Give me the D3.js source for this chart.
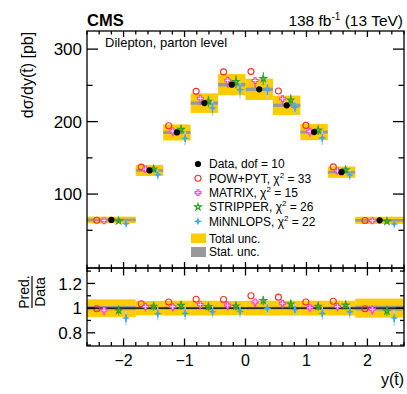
<!DOCTYPE html>
<html>
<head>
<meta charset="utf-8">
<script src="https://cdn.jsdelivr.net/npm/d3@7"></script>
<style>
  body { margin: 0; background: #fff; }
  text { font-family: "Liberation Sans", Arial, Helvetica, sans-serif; fill: #000; }
</style>
</head>
<body>
<svg id="chart" width="407" height="394"></svg>
<script>
// bins in y(tbar) and measured cross section [pb]
const binEdges = [-2.6, -1.8, -1.35, -0.9, -0.45, 0, 0.45, 0.9, 1.35, 1.8, 2.6];
const dataVals = [64.3, 132.6, 185, 225.5, 251, 244.5, 222.5, 185.5, 130.2, 63.8];
const totalRel = [0.071, 0.058, 0.06, 0.06, 0.058, 0.06, 0.06, 0.06, 0.06, 0.077];
const statRel  = [0.017, 0.01, 0.011, 0.01, 0.01, 0.01, 0.01, 0.011, 0.012, 0.02];

// prediction / data
const powRatio      = [0.995, 1.035, 1.05, 1.072, 1.07, 1.1, 1.089, 1.05, 1.056, 0.995];
const matrixRatio   = [0.984, 1.014, 1.011, 1.03, 1.024, 1.05, 1.04, 1.006, 1.014, 0.99];
const stripperRatio = [0.981, 1.014, 1.022, 1.011, 1.016, 1.06, 1.032, 1.014, 1.024, 0.976];
const minnlopsRatio = [0.92, 0.955, 0.957, 0.97, 0.973, 0.998, 0.987, 0.957, 0.97, 0.92];

// relative theory uncertainties (up, down)
const matrixErrUp   = [0.005, 0.005, 0.005, 0.005, 0.005, 0.005, 0.005, 0.005, 0.005, 0.005];
const matrixErrDn   = [0.045, 0.04, 0.04, 0.04, 0.04, 0.04, 0.04, 0.04, 0.04, 0.045];
const stripperErr   = [0.04, 0.035, 0.035, 0.035, 0.035, 0.035, 0.035, 0.035, 0.035, 0.04];
const minnlopsErr   = [0.065, 0.055, 0.055, 0.05, 0.05, 0.05, 0.05, 0.055, 0.055, 0.07];
const minnlopsInner = [0.035, 0.03, 0.03, 0.03, 0.03, 0.03, 0.03, 0.03, 0.03, 0.035];

const xTicks = [-2, -1, 0, 1, 2];
const yTicks = [100, 200, 300];
const yMinor = [50, 150, 250];
const rTicks = [0.8, 1, 1.2];
const rMinor = [0.7, 0.9, 1.1, 1.3];

const legendLabels = [
  {name: "Data, dof = 10"},
  {name: "POW+PYT, \u03c7", sup: "2", rest: " = 33"},
  {name: "MATRIX, \u03c7", sup: "2", rest: " = 15"},
  {name: "STRIPPER, \u03c7", sup: "2", rest: " = 26"},
  {name: "MiNNLOPS, \u03c7", sup: "2", rest: " = 22"}
];

const colYellow = "#ffcc00", colGrey = "#999999";
const colPow = "#ff2a2a", colMatrix = "#ff3fd8", colStrip = "#2f9f2f", colMin = "#40a8f0", colMinLight = "#a9d6f5";

let svg = d3.select("#chart");
const L = 87, R = 404, T = 31, B = 268, RB = 346;

let x = d3.scaleLinear().domain([-2.6, 2.6]).range([L, R]);
let y = d3.scaleLinear().domain([-2, 325]).range([B, T]);
let yr = d3.scaleLinear().domain([0.693, 1.325]).range([RB, B]);

let bins = dataVals.map(function(v, i) {
  let lo = binEdges[i], hi = binEdges[i+1];
  return {i: i, lo: lo, hi: hi, c: (lo+hi)/2, w: hi-lo, v: v, tot: totalRel[i], stat: statRel[i]};
});

// marker shapes
function fourStar(r, w) {
  return "M0," + (-r) + "L" + w + "," + (-w) + "L" + r + ",0L" + w + "," + w +
         "L0," + r + "L" + (-w) + "," + w + "L" + (-r) + ",0L" + (-w) + "," + (-w) + "Z";
}
const crossPath = d3.symbol(d3.symbolCross, 19)();
const starPath = d3.symbol(d3.symbolStar, 13)();

const preds = [
  {key: "pow", ratio: powRatio, off: -0.3, color: colPow},
  {key: "matrix", ratio: matrixRatio, off: -0.15, color: colMatrix, up: matrixErrUp, dn: matrixErrDn},
  {key: "stripper", ratio: stripperRatio, off: 0.15, color: colStrip, up: stripperErr, dn: stripperErr},
  {key: "minnlops", ratio: minnlopsRatio, off: 0.3, color: colMin, up: minnlopsErr, dn: minnlopsErr}
];

function drawMarker(g, key, cx, cy) {
  if (key === "data") {
    g.append("circle").attr("cx", cx).attr("cy", cy).attr("r", 3.1).style("fill", "#000");
  } else if (key === "pow") {
    g.append("circle").attr("cx", cx).attr("cy", cy).attr("r", 3)
     .style("fill", "none").style("stroke", colPow).style("stroke-width", 1.1);
  } else if (key === "matrix") {
    g.append("path").attr("d", crossPath).attr("transform", "translate(" + cx + "," + cy + ")")
     .style("fill", "#fff").style("stroke", colMatrix).style("stroke-width", 1.1);
  } else if (key === "stripper") {
    g.append("path").attr("d", starPath).attr("transform", "translate(" + cx + "," + cy + ")")
     .style("fill", "none").style("stroke", colStrip).style("stroke-width", 1.2);
  } else {
    g.append("path").attr("d", fourStar(4.2, 1.1)).attr("transform", "translate(" + cx + "," + cy + ")")
     .style("fill", colMin);
  }
}

// total + stat bands of one panel; valOf(bin, factor) gives the value to plot
function drawPanel(g, ys, valOf) {
  g.selectAll(".tot").data(bins).enter().append("rect")
   .attr("x", d => x(d.lo)).attr("width", d => x(d.hi) - x(d.lo))
   .attr("y", d => ys(valOf(d, 1 + d.tot))).attr("height", d => ys(valOf(d, 1 - d.tot)) - ys(valOf(d, 1 + d.tot)))
   .style("fill", colYellow);
  g.selectAll(".stat").data(bins).enter().append("rect")
   .attr("x", d => x(d.lo)).attr("width", d => x(d.hi) - x(d.lo))
   .attr("y", d => Math.min(ys(valOf(d, 1 + d.stat)), ys(valOf(d, 1)) - 1.3))
   .attr("height", d => Math.max(ys(valOf(d, 1 - d.stat)) - ys(valOf(d, 1 + d.stat)), 2.6))
   .style("fill", colGrey);
}

function drawPreds(g, ys, valOf) {
  preds.forEach(function(p) {
    bins.forEach(function(b) {
      let cx = x(b.c + p.off * b.w);
      let r = p.ratio[b.i];
      if (p.up) {
        let y1 = ys(valOf(b, r * (1 + p.up[b.i]))), y2 = ys(valOf(b, r * (1 - p.dn[b.i])));
        g.append("line").attr("x1", cx).attr("x2", cx).attr("y1", y1).attr("y2", y2)
         .style("stroke", p.key === "minnlops" ? colMinLight : p.color).style("stroke-width", 1.4)
         .style("opacity", p.key === "stripper" ? 0.75 : 1);
        if (p.key === "minnlops") {
          let inner = minnlopsInner[b.i];
          g.append("line").attr("x1", cx).attr("x2", cx)
           .attr("y1", ys(valOf(b, r * (1 + inner)))).attr("y2", ys(valOf(b, r * (1 - inner))))
           .style("stroke", colMin).style("stroke-width", 1.4);
        }
      }
      drawMarker(g, p.key, cx, ys(valOf(b, r)));
    });
  });
}

// ---------- upper panel ----------
let upper = svg.append("g");
let mainVal = function(d, r) { return d.v * r; };
drawPanel(upper, y, mainVal);
drawPreds(upper, y, mainVal);
bins.forEach(function(b) { drawMarker(upper, "data", x(b.c), y(b.v)); });

// ---------- ratio panel ----------
let lower = svg.append("g");
let ratioVal = function(d, r) { return r; };
drawPanel(lower, yr, ratioVal);
lower.append("line").attr("x1", L).attr("x2", R).attr("y1", yr(1)).attr("y2", yr(1))
   .style("stroke", "#000").style("stroke-width", 1.1);
drawPreds(lower, yr, ratioVal);

// ---------- frames & ticks ----------
let frame = svg.append("g").style("stroke", "#000").style("fill", "none").style("stroke-width", 1.3);
frame.append("rect").attr("x", L).attr("y", T).attr("width", R - L).attr("height", B - T);
frame.append("rect").attr("x", L).attr("y", B).attr("width", R - L).attr("height", RB - B);

let xMinorTicks = d3.range(-2.6, 2.61, 0.2).map(v => Math.round(v * 10) / 10).filter(v => xTicks.indexOf(v) < 0);

function xTickMarks(y0, y1, major, minor) {
  xTicks.forEach(function(t) {
    frame.append("line").attr("x1", x(t)).attr("x2", x(t)).attr("y1", y0).attr("y2", y0 + major);
    frame.append("line").attr("x1", x(t)).attr("x2", x(t)).attr("y1", y1).attr("y2", y1 - major);
  });
  xMinorTicks.forEach(function(t) {
    frame.append("line").attr("x1", x(t)).attr("x2", x(t)).attr("y1", y0).attr("y2", y0 + minor);
    frame.append("line").attr("x1", x(t)).attr("x2", x(t)).attr("y1", y1).attr("y2", y1 - minor);
  });
}
xTickMarks(T, B, 6, 3.5);
xTickMarks(B, RB, 7.5, 4);

function yTickMarks(scale, major, minor, lenMaj, lenMin) {
  major.forEach(function(t) {
    frame.append("line").attr("x1", L).attr("x2", L + lenMaj).attr("y1", scale(t)).attr("y2", scale(t));
    frame.append("line").attr("x1", R).attr("x2", R - lenMaj).attr("y1", scale(t)).attr("y2", scale(t));
  });
  minor.forEach(function(t) {
    frame.append("line").attr("x1", L).attr("x2", L + lenMin).attr("y1", scale(t)).attr("y2", scale(t));
    frame.append("line").attr("x1", R).attr("x2", R - lenMin).attr("y1", scale(t)).attr("y2", scale(t));
  });
}
yTickMarks(y, yTicks, yMinor, 11, 5.5);
yTickMarks(yr, rTicks, rMinor, 8, 4);

// tick labels
svg.selectAll(".ylab").data(yTicks).enter().append("text")
   .attr("x", L - 5).attr("y", d => y(d)).attr("dy", "0.36em")
   .attr("text-anchor", "end").style("font-size", "17px").text(d => d);
svg.selectAll(".rlab").data(rTicks).enter().append("text")
   .attr("x", L - 5).attr("y", d => yr(d)).attr("dy", "0.36em")
   .attr("text-anchor", "end").style("font-size", "17px").text(d => String(d));
svg.selectAll(".xlab").data(xTicks).enter().append("text")
   .attr("x", d => x(d)).attr("y", 366)
   .attr("text-anchor", "middle").style("font-size", "16px").text(d => d < 0 ? "\u2212" + (-d) : d);

// axis titles
svg.append("text").attr("transform", "translate(33,75) rotate(-90)")
   .attr("text-anchor", "middle").style("font-size", "16px").text("d\u03c3/dy(t\u0304) [pb]");
let frac = svg.append("g").attr("transform", "translate(32,292) rotate(-90)");
frac.append("text").attr("x", 0).attr("y", -3).attr("text-anchor", "middle").style("font-size", "14px").text("Pred.");
frac.append("text").attr("x", 0).attr("y", 13).attr("text-anchor", "middle").style("font-size", "14px").text("Data");
frac.append("line").attr("x1", -16).attr("x2", 16).attr("y1", 0).attr("y2", 0).style("stroke", "#000").style("stroke-width", 1.2);
svg.append("text").attr("x", R).attr("y", 385).attr("text-anchor", "end")
   .style("font-size", "16px").text("y(t\u0304)");

// header
svg.append("text").attr("x", L).attr("y", 26).style("font-size", "16.5px").style("font-weight", "bold").text("CMS");
let lumi = svg.append("text").attr("x", R - 1).attr("y", 26).attr("text-anchor", "end").style("font-size", "15.5px");
lumi.append("tspan").text("138 fb");
lumi.append("tspan").attr("dy", -6).style("font-size", "10px").text("-1");
lumi.append("tspan").attr("dy", 6).text(" (13 TeV)");
svg.append("text").attr("x", 105).attr("y", 47).style("font-size", "13px").text("Dilepton, parton level");

// legend
let leg = svg.append("g");
const legKeys = ["data", "pow", "matrix", "stripper", "minnlops"];
const legY = [164, 178.3, 192.6, 207, 221.3];
legendLabels.forEach(function(l, i) {
  drawMarker(leg, legKeys[i], 198, legY[i]);
  let t = leg.append("text").attr("x", 209).attr("y", legY[i]).attr("dy", "0.36em").style("font-size", "12px");
  t.append("tspan").text(l.name);
  if (l.sup) {
    t.append("tspan").attr("dy", -5).style("font-size", "8px").text(l.sup);
    t.append("tspan").attr("dy", 5).text(l.rest);
  }
});
leg.append("rect").attr("x", 191).attr("y", 233.5).attr("width", 15).attr("height", 9.5).style("fill", colYellow);
leg.append("text").attr("x", 209).attr("y", 238.3).attr("dy", "0.36em").style("font-size", "12px").text("Total unc.");
leg.append("rect").attr("x", 191).attr("y", 247).attr("width", 15).attr("height", 10).style("fill", colGrey);
leg.append("text").attr("x", 209).attr("y", 252).attr("dy", "0.36em").style("font-size", "12px").text("Stat. unc.");
</script>
</body>
</html>
